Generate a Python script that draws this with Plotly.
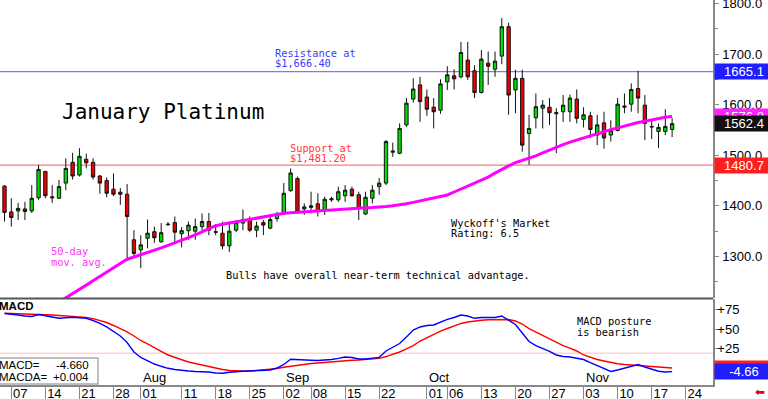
import numpy as np
import pandas as pd
import plotly.graph_objects as go

# ---------------- data ----------------
holidays = ["2024-07-04", "2024-09-02", "2024-11-28"]
calendar = [d for d in pd.bdate_range("2024-07-03", "2024-11-29") if d.strftime("%Y-%m-%d") not in holidays]

opens = [1439, 1388, 1390, 1394, 1390, 1416, 1468, 1418, 1415, 1445,
         1486, 1461, 1492, 1486, 1459, 1450, 1433, 1427, 1423, 1333,
         1313, 1336, 1349, 1329, 1364, 1367, 1345, 1351, 1350, 1359,
         1369, 1349, 1346, 1321, 1352, 1366, 1375, 1352, 1367, 1356,
         1375, 1384, 1430, 1454, 1394, 1397, 1404, 1392, 1412, 1412,
         1420, 1433, 1422, 1384, 1415, 1438, 1445, 1506, 1504, 1560,
         1611, 1639, 1615, 1595, 1589, 1645, 1657, 1655, 1688, 1667,
         1624, 1682, 1670, 1696, 1754, 1629, 1652, 1543, 1574, 1593,
         1595, 1582, 1586, 1586, 1611, 1571, 1578, 1540, 1564, 1540,
         1549, 1595, 1601, 1632, 1599, 1557, 1547, 1547, 1551]
highs = [1441, 1415, 1406, 1408, 1441, 1481, 1469, 1441, 1451, 1494,
         1505, 1514, 1503, 1494, 1461, 1456, 1464, 1435, 1443, 1352,
         1342, 1373, 1359, 1366, 1368, 1379, 1358, 1369, 1375, 1385,
         1386, 1364, 1369, 1369, 1372, 1393, 1379, 1369, 1372, 1383,
         1388, 1445, 1474, 1458, 1405, 1428, 1425, 1418, 1418, 1438,
         1441, 1438, 1428, 1428, 1441, 1455, 1530, 1525, 1563, 1613,
         1652, 1655, 1630, 1613, 1650, 1676, 1670, 1724, 1724, 1678,
         1708, 1705, 1705, 1771, 1762, 1669, 1669, 1580, 1622, 1609,
         1613, 1593, 1619, 1620, 1630, 1595, 1586, 1580, 1586, 1569,
         1613, 1622, 1642, 1667, 1619, 1571, 1563, 1591, 1573]
lows = [1369, 1359, 1372, 1372, 1386, 1412, 1415, 1406, 1414, 1431,
        1452, 1458, 1474, 1452, 1424, 1417, 1419, 1402, 1291, 1298,
        1277, 1316, 1327, 1327, 1360, 1329, 1318, 1333, 1333, 1352,
        1342, 1342, 1314, 1309, 1348, 1352, 1348, 1338, 1342, 1354,
        1369, 1382, 1428, 1385, 1382, 1385, 1379, 1382, 1408, 1408,
        1408, 1418, 1372, 1382, 1405, 1422, 1441, 1497, 1502, 1556,
        1604, 1566, 1578, 1553, 1582, 1629, 1630, 1652, 1649, 1613,
        1622, 1639, 1655, 1680, 1580, 1583, 1507, 1481, 1553, 1553,
        1560, 1504, 1566, 1566, 1563, 1555, 1534, 1520, 1513, 1527,
        1547, 1583, 1586, 1583, 1530, 1532, 1514, 1540, 1536]
closes = [1387, 1377, 1395, 1389, 1415, 1472, 1420, 1416, 1438, 1474,
          1459, 1498, 1485, 1457, 1445, 1425, 1423, 1423, 1379, 1306,
          1323, 1346, 1337, 1347, 1363, 1348, 1351, 1362, 1359, 1369,
          1352, 1348, 1321, 1350, 1367, 1373, 1352, 1360, 1362, 1373,
          1383, 1425, 1465, 1388, 1398, 1400, 1389, 1413, 1414, 1428,
          1431, 1420, 1395, 1417, 1431, 1445, 1527, 1508, 1553, 1603,
          1631, 1606, 1591, 1586, 1641, 1659, 1651, 1703, 1655, 1624,
          1690, 1676, 1686, 1754, 1619, 1652, 1520, 1553, 1596, 1599,
          1584, 1584, 1599, 1613, 1573, 1580, 1551, 1560, 1534, 1549,
          1601, 1597, 1630, 1613, 1563, 1556, 1555, 1557, 1562.4]

ma50 = [1143, 1151, 1159, 1168, 1176, 1184, 1193, 1201, 1210, 1218,
        1227, 1235, 1243.4, 1252, 1260.2, 1268.9, 1277.4, 1286.3, 1294.6, 1299,
        1303.3, 1307.9, 1312.4, 1317, 1322.1, 1326.8, 1331.8, 1337.1, 1342.8, 1349.1,
        1354.9, 1360.8, 1363.6, 1366.1, 1368.5, 1370.9, 1373.3, 1375.8, 1378.2, 1380.6,
        1383.1, 1385.3, 1386.5, 1387.5, 1388.5, 1389.7, 1390.7, 1391.7, 1392.6, 1393.4,
        1394.4, 1395.2, 1395.8, 1396.2, 1396.6, 1397.2, 1398.6, 1400.1, 1401.5, 1404.1,
        1406.9, 1409.6, 1412.4, 1415.2, 1417.3, 1421.5, 1427.4, 1433.1, 1438.9, 1444.2,
        1449.7, 1456.8, 1464.8, 1472.4, 1479, 1485.5, 1489.5, 1493.8, 1498.8, 1504.7,
        1510.6, 1516.3, 1521.1, 1526, 1530.2, 1534.5, 1538.9, 1543.2, 1547, 1550.7,
        1554.2, 1558, 1561.8, 1564.7, 1567.3, 1570.1, 1572.6, 1575.2, 1576.8]

macd = [69.9, 69.2, 67.9, 66.7, 66, 68.6, 67.3, 65.4, 63.7, 64.1,
        65, 64.4, 63.7, 60.9, 57.3, 52.6, 46.8, 41, 32.7, 20.5,
        13.5, 9, 5.1, 2.2, -0.4, -1.9, -3.2, -3.8, -4.5, -4.7,
        -5.1, -6.4, -6.8, -5.5, -4.5, -4.1, -3.8, -3.6, -3.2, -2.6,
        0, 4.5, 11.2, 10.5, 10.3, 9.9, 9.6, 9.9, 10.9, 12.4,
        14.1, 13.5, 11.5, 11.5, 12.2, 13.7, 21.8, 26.3, 31.4, 39.7,
        48.7, 52.6, 54.5, 55.1, 59, 62.4, 64.7, 67.9, 66.7, 63.7,
        64.7, 65, 64.7, 66.7, 61.5, 55.8, 44.9, 34, 28.8, 25.3,
        21.2, 16.7, 14.7, 14.1, 12.8, 10.9, 6.8, 3.2, -0.6, -4.5,
        -2.6, 0, 2.6, 4.5, 1.3, -1.9, -4.2, -5.1, -4.66]
macd_avg = [70.1, 69.9, 69.6, 69.4, 69.1, 68.8, 68.5, 67.9, 67.3, 66.7,
            66, 65.6, 64.9, 63.3, 60.9, 58.3, 54.5, 50.6, 46.2, 41,
            35.3, 30.8, 25.6, 21.2, 16.7, 13.5, 10.3, 7.7, 5.8, 3.8,
            1.9, -0.6, -1.9, -3.2, -3.8, -3.8, -3.8, -3.2, -2.6, -1.9,
            -0.6, 0.9, 2.2, 3.8, 4.7, 5.8, 6.4, 7.3, 8.1, 9,
            9.6, 10, 10.3, 10.9, 11.5, 12.4, 14.7, 17.3, 20.5, 24.4,
            28.8, 34.6, 39.1, 43.6, 47.4, 50.6, 53.8, 57.1, 59, 60.3,
            61.2, 61.8, 62.2, 62.4, 62.2, 60.3, 56.4, 50.6, 46.2, 42.3,
            37.8, 32.7, 28.8, 25.6, 21.8, 16.7, 13.5, 10.9, 9, 7.1,
            5.4, 4.5, 3.8, 3.5, 2.8, 1.9, 1, 0.3, 0.004]

tick_dates = ["2024-07-07", "2024-07-14", "2024-07-21", "2024-07-28", "2024-08-01",
              "2024-08-11", "2024-08-18", "2024-08-25", "2024-09-02", "2024-09-08",
              "2024-09-15", "2024-09-22", "2024-10-01", "2024-10-06", "2024-10-13",
              "2024-10-20", "2024-10-27", "2024-11-03", "2024-11-10", "2024-11-17",
              "2024-11-24"]
tick_labels = ["07", "14", "21", "28", "01", "11", "18", "25", "02", "08", "15", "22",
               "01", "06", "13", "20", "27", "03", "10", "17", "24"]
month_dates = ["2024-08-01", "2024-09-02", "2024-10-01", "2024-11-03"]
month_labels = ["Aug", "Sep", "Oct", "Nov"]

price_ticks = [1300, 1400, 1500, 1600, 1700, 1800]
macd_ticks = [0, 25, 50, 75]

resistance_level = 1665.1
resistance_text = "$1,666.40"
support_level = 1480.7
support_text = "$1,481.20"
macd_ref_level = 19
rating = "6.5"

# ---------------- helpers ----------------
n = len(closes)
idx = list(range(n))
cal = pd.DatetimeIndex(calendar)
bar_dates = [d.strftime("%b %d") for d in cal[:n]]


def date_index(d):
    return int(np.searchsorted(cal.values, np.datetime64(d), side="right") - 1)


tickvals = [date_index(d) for d in tick_dates]
month_pos = [date_index(d) for d in month_dates]

PW, PH = 713.0, 385.0


def fx(x):
    return x / PW


def fy(y):
    return 1 - y / PH


MONO = "DejaVu Sans Mono"
SANS = "Liberation Sans, Arial, sans-serif"

fig = go.Figure()
fig.add_trace(go.Candlestick(
    x=idx, open=opens, high=highs, low=lows, close=closes, text=bar_dates,
    increasing=dict(fillcolor="#00dd00", line=dict(color="#111111", width=1)),
    decreasing=dict(fillcolor="#ee0000", line=dict(color="#111111", width=1)),
    whiskerwidth=0, xaxis="x", yaxis="y", showlegend=False, name="Jan Platinum"))
fig.add_trace(go.Scatter(x=idx, y=ma50, mode="lines", line=dict(color="#ff00ff", width=3),
                         xaxis="x", yaxis="y", showlegend=False, name="50-day MA"))
fig.add_trace(go.Scatter(x=idx, y=macd_avg, mode="lines", line=dict(color="#ff0000", width=1.4),
                         xaxis="x", yaxis="y2", showlegend=False, name="MACDA"))
fig.add_trace(go.Scatter(x=idx, y=macd, mode="lines", line=dict(color="#0000ff", width=1.4),
                         xaxis="x", yaxis="y2", showlegend=False, name="MACD"))

shapes = [
    dict(type="line", xref="paper", x0=0, x1=1, yref="y", y0=resistance_level, y1=resistance_level,
         line=dict(color="#7a7aff", width=1.2), layer="below"),
    dict(type="line", xref="paper", x0=0, x1=1, yref="y", y0=support_level, y1=support_level,
         line=dict(color="#ff7a7a", width=1.2), layer="below"),
    dict(type="line", xref="paper", x0=0, x1=1, yref="y2", y0=macd_ref_level, y1=macd_ref_level,
         line=dict(color="#ffbcbc", width=1), layer="below"),
    dict(type="line", xref="paper", x0=0, x1=1, yref="paper", y0=fy(298.5), y1=fy(298.5),
         line=dict(color="#555555", width=2)),
    dict(type="rect", xref="paper", x0=-0.002, x1=fx(98), yref="paper", y0=fy(384), y1=fy(358),
         line=dict(color="#aaaaaa", width=1.5), fillcolor="white"),
]

ann = []


def txt(s, x, y, color="black", size=10.3, family=MONO, **kw):
    ann.append(dict(text=s, xref="paper", yref="paper", x=fx(x), y=fy(y), xanchor="left",
                    yanchor="middle", showarrow=False, font=dict(family=family, size=size, color=color), **kw))


txt("Resistance at", 273, 53, "#3a3aff")
txt(resistance_text, 273, 63, "#3a3aff")
txt("Support at", 288, 147.5, "#ff3a3a")
txt(support_text, 288, 157.5, "#ff3a3a")
txt("January Platinum", 60, 111.5, "black", size=21)
txt("50-day", 49, 251, "#ff33ff")
txt("mov. avg.", 49, 261.5, "#ff33ff")
txt("Bulls have overall near-term technical advantage.", 224, 275)
txt("Wyckoff's Market", 449, 222.5)
txt("Rating: " + rating, 449, 233)
txt("MACD posture", 575, 321)
txt("is bearish", 575, 332)
txt("<b>MACD</b>", -3, 306, size=11.5, family=SANS)
txt("MACD=", -3, 365, size=11.5, family=SANS)
txt("MACDA=", -3, 377, size=11.5, family=SANS)
ann.append(dict(text="%.3f" % macd[-1], xref="paper", yref="paper", x=fx(91), y=fy(365), xanchor="right",
                yanchor="middle", showarrow=False, font=dict(family=SANS, size=11.5, color="black")))
ann.append(dict(text="%+.3f" % macd_avg[-1], xref="paper", yref="paper", x=fx(91), y=fy(377), xanchor="right",
                yanchor="middle", showarrow=False, font=dict(family=SANS, size=11.5, color="black")))

for p, lab in zip(month_pos, month_labels):
    ann.append(dict(text=lab, xref="x", yref="paper", x=p, y=fy(377.5), xanchor="left", xshift=0,
                    yanchor="middle", showarrow=False, font=dict(family=SANS, size=13, color="black")))


def box(value, ref, label, bg):
    ann.append(dict(text=label, xref="paper", yref=ref, x=1, y=value, xanchor="left", xshift=1,
                    yanchor="middle", showarrow=False, bgcolor=bg, width=56, height=13, borderpad=1,
                    align="center", font=dict(family=SANS, size=13, color="white")))


box(resistance_level, "y", "%.1f" % resistance_level, "#1e1eff")
box(ma50[-1], "y", "%.1f" % ma50[-1], "#ff22ff")
box(closes[-1], "y", "%.1f" % closes[-1], "#111111")
box(support_level, "y", "%.1f" % support_level, "#ff1e1e")
box(macd_avg[-1], "y2", "0", "#ff1e1e")
box(macd[-1], "y2", "%.2f" % macd[-1], "#1e1eff")
ann.append(dict(text="⬅", xref="paper", yref="paper", x=fx(760), y=fy(392), xanchor="center",
                yanchor="middle", showarrow=False, font=dict(family="DejaVu Sans", size=12, color="#ee0000")))

fig.update_layout(
    width=768, height=399, margin=dict(l=0, r=55, t=0, b=14),
    paper_bgcolor="white", plot_bgcolor="white", showlegend=False,
    shapes=shapes, annotations=ann,
    xaxis=dict(range=[-0.66, 104.0], anchor="y2", tickmode="array", tickvals=tickvals, ticktext=tick_labels,
               ticks="outside", ticklen=12, tickcolor="#888888", tickwidth=1.2,
               tickfont=dict(family=SANS, size=13, color="black"),
               ticklabelshift=9, ticklabelstandoff=-16, ticklabeloverflow="allow",
               showline=True, linecolor="#888888", linewidth=1.5, showgrid=False, zeroline=False,
               rangeslider=dict(visible=False), automargin=False, fixedrange=True),
    yaxis=dict(domain=[fy(298), 1], range=[1217.95, 1806.8], side="right", anchor="x",
               tickmode="linear", tick0=1300, dtick=100, tickformat=".1f",
               ticks="outside", ticklen=4, tickcolor="#888888",
               minor=dict(dtick=50, ticks="outside", ticklen=3, tickcolor="#888888"),
               tickfont=dict(family=SANS, size=13, color="black"), ticklabelstandoff=1,
               ticklabeloverflow="allow",
               showline=True, linecolor="#888888", linewidth=1.5, showgrid=False, zeroline=False,
               automargin=False),
    yaxis2=dict(domain=[0, fy(299)], range=[-21.79, 88.46], side="right", anchor="x",
                tickmode="array", tickvals=macd_ticks, tickformat="+d",
                ticks="outside", ticklen=3, tickcolor="#888888",
                tickfont=dict(family=SANS, size=13, color="black"), ticklabelstandoff=-3,
                ticklabeloverflow="allow",
                showline=True, linecolor="#888888", linewidth=1.5, showgrid=False, zeroline=False,
                automargin=False),
)

fig.write_html("out.html", config={"displayModeBar": False},
               post_script="document.body.style.margin='0px';document.body.style.overflow='hidden';")
